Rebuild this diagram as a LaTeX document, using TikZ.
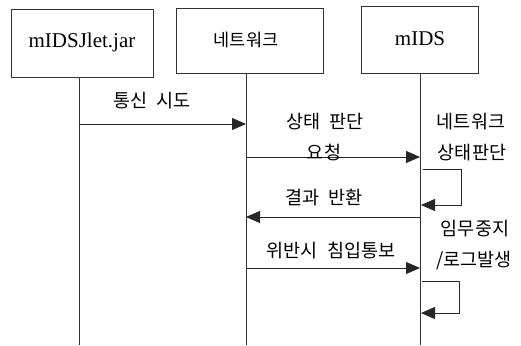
\documentclass[tikz,border=0pt]{standalone}
\usepackage{fontspec}
\setmainfont{Liberation Serif}
\newfontfamily\kr{Noto Sans CJK KR}
\usetikzlibrary{arrows.meta}
\begin{document}
\begin{tikzpicture}[x=1pt,y=-1pt,
  actor/.style={draw=black!80, line width=0.8pt, inner sep=0pt},
  life/.style={draw=black!80, line width=0.8pt},
  msg/.style={draw=black!85, line width=0.8pt, -{Triangle[length=14pt,width=12pt]}},
  lbl/.style={font=\kr\fontsize{18.5}{22}\selectfont, inner sep=0pt},
  hdr/.style={font=\fontsize{21}{24}\selectfont},
  hdrk/.style={font=\kr\fontsize{17.5}{20}\selectfont}]
\useasboundingbox (0,0) rectangle (521,345);
\fill[white] (0,0) rectangle (521,345);
% actors
\node[actor, minimum width=142pt, minimum height=68pt] (A) at (82,43) {};
\node[hdr] (At) at (82,42) {mIDSJlet.jar};
\node[actor, minimum width=147pt, minimum height=65pt] (B) at (249.5,40.5) {};
\node[hdrk] (Bt) at (246,40) {네트워크};
\node[actor, minimum width=117pt, minimum height=67pt] (C) at (419.5,39.5) {};
\node[hdr] (Ct) at (420,39) {mIDS};
% lifeline ends
\coordinate (la) at (79,345);
\coordinate (lb) at (246,345);
\coordinate (lc) at (420,345);
\draw[life] (A.south -| la) -- (la);
\draw[life] (B.south -| lb) -- (lb);
\draw[life] (C.south -| lc) -- (lc);
% message endpoints
\coordinate (m1a) at (79,124);  \coordinate (m1b) at (246,124);
\coordinate (m2a) at (246,157); \coordinate (m2b) at (420,157);
\coordinate (m3a) at (420,217); \coordinate (m3b) at (246,217);
\coordinate (m4a) at (246,268); \coordinate (m4b) at (420,268);
\coordinate (s1a) at (423,169); \coordinate (s1r) at (461,169); \coordinate (s1d) at (461,205); \coordinate (s1e) at (421,205);
\coordinate (s2a) at (422,281); \coordinate (s2r) at (459,281); \coordinate (s2d) at (459,313); \coordinate (s2e) at (421,313);
\draw[msg] (m1a) -- (m1b);
\draw[msg] (m2a) -- (m2b);
\draw[msg] (m3a) -- (m3b);
\draw[msg] (m4a) -- (m4b);
\draw[msg] (s1a) -- (s1r) -- (s1d) -- (s1e);
\draw[msg] (s2a) -- (s2r) -- (s2d) -- (s2e);
% labels
\node[lbl] (l1) at (152,101) {통신\hspace{0.5em}시도};
\node[lbl] (l2a) at (325,122) {상태\hspace{0.5em}판단};
\node[lbl] (l2b) at (324,153) {요청};
\node[lbl] (l3) at (324,198) {결과\hspace{0.5em}반환};
\node[lbl] (l4) at (331,251) {위반시\hspace{0.5em}침입통보};
\node[lbl] (l5a) at (471,122) {네트워크};
\node[lbl] (l5b) at (472,153) {상태판단};
\node[lbl] (l6a) at (475,229) {임무중지};
\node[lbl] (l6b) at (474,261) {/로그발생};
\end{tikzpicture}
\end{document}
